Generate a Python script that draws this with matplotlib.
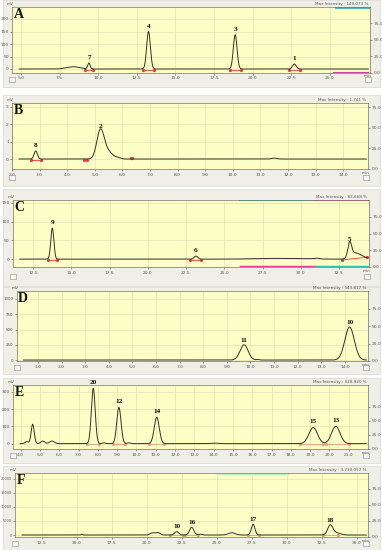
import numpy as np
import matplotlib
matplotlib.use("Agg")
import matplotlib.pyplot as plt
from matplotlib.patches import Rectangle

W, H = 382, 550

# ---------------- data (peak tables) ----------------
A_centers = [8.0, 8.4, 8.8, 9.4, 13.26, 18.87, 22.7]
A_heights = [5, 7, 5, 24, 150, 137, 20]
A_widths = [0.25, 0.2, 0.2, 0.08, 0.12, 0.12, 0.12]
A_labels = ["", "", "", "7", "4", "3", "1"]
A_xticks = [5.0, 7.5, 10.0, 12.5, 15.0, 17.5, 20.0, 22.5, 25.0]
A_yticks = [0, 50, 100, 150, 200]

B_centers = [2.86, 5.2, 5.45, 5.85, 11.5]
B_heights = [0.46, 1.55, 0.45, 0.06, 0.05]
B_widths = [0.06, 0.13, 0.18, 0.1, 0.1]
B_labels = ["8", "2", "", "", ""]
B_xticks = [2.0, 3.0, 4.0, 5.0, 6.0, 7.0, 8.0, 9.0, 10.0, 11.0, 12.0, 13.0, 14.0]
B_yticks = [0, 1, 2, 3]

C_centers = [13.76, 23.15, 28.5, 31.0, 33.2, 33.5, 34.0]
C_heights = [83, 8, 2, 2, 38, 15, 6]
C_widths = [0.1, 0.12, 1.5, 0.2, 0.12, 0.3, 0.3]
C_labels = ["9", "6", "", "", "5", "", ""]
C_xticks = [12.5, 15.0, 17.5, 20.0, 22.5, 25.0, 27.5, 30.0, 32.5]
C_yticks = [0, 50, 100, 150]

D_centers = [9.73, 10.3, 14.2]
D_heights = [250, 10, 540]
D_widths = [0.17, 0.06, 0.2]
D_labels = ["11", "", "10"]
D_xticks = [1.0, 2.0, 3.0, 4.0, 5.0, 6.0, 7.0, 8.0, 9.0, 10.0, 11.0, 12.0, 13.0, 14.0]
D_yticks = [0, 250, 500, 750, 1000]

E_centers = [4.31, 4.62, 5.14, 5.62, 7.76, 8.3, 9.09, 9.6, 11.05, 14.0, 19.16, 20.33]
E_heights = [12, 112, 15, 15, 320, 5, 209, 5, 153, 3, 93, 100]
E_widths = [0.08, 0.08, 0.1, 0.12, 0.1, 0.08, 0.11, 0.08, 0.13, 0.2, 0.22, 0.22]
E_labels = ["", "", "", "", "20", "", "12", "", "14", "", "15", "13"]
E_xticks = [4.0, 5.0, 6.0, 7.0, 8.0, 9.0, 10.0, 11.0, 12.0, 13.0, 14.0, 15.0, 16.0,
            17.0, 18.0, 19.0, 20.0, 21.0]
E_yticks = [0, 100, 200, 300]

F_centers = [15.36, 20.4, 20.8, 22.14, 23.21, 23.8, 26.07, 27.6, 33.1, 33.5]
F_heights = [300, 800, 900, 1180, 2750, 300, 820, 3820, 3320, 800]
F_widths = [0.05, 0.15, 0.15, 0.15, 0.15, 0.15, 0.25, 0.13, 0.18, 0.3]
F_labels = ["", "", "", "10", "16", "", "", "17", "18", ""]
F_xticks = [12.5, 15.0, 17.5, 20.0, 22.5, 25.0, 27.5, 30.0, 32.5, 35.0]
F_yticks = [0, 5000, 10000, 15000, 20000]

R_ticks = [0, 25, 50, 75]
max_texts = ["Max Intensity : 149,073 %", "Max Intensity : 1,741 %",
             "Max Intensity : 83,668 %", "Max Intensity : 543,817 %",
             "Max Intensity : 328,920 %", "Max Intensity : 3,730,057 %"]

# ---------------- styling ----------------
YEL = "#fdfdc6"
FRAME = "#efefe8"
GRID = "#dcdcb4"
LINE = "#33332a"
TXT = "#555555"

fig = plt.figure(figsize=(W / 100, H / 100), dpi=100)
fig.patch.set_facecolor("white")


def frect(x0, y0, x1, y1):
    return [x0 / W, 1 - y1 / H, (x1 - x0) / W, (y1 - y0) / H]


def panel(box, frame, letter, xlim, ylim, xticks, yticks, rylim, cents, hts, wds,
          labs, mtxt, fmt_x="{:.1f}", lab_off=0.04, ylab_size=3.2):
    fx0, fy0, fx1, fy1 = frame
    fig.add_artist(Rectangle((fx0 / W, 1 - fy1 / H), (fx1 - fx0) / W, (fy1 - fy0) / H,
                             transform=fig.transFigure, facecolor=FRAME,
                             edgecolor="#d8d8d0", lw=0.5, zorder=0))
    ax = fig.add_axes(frect(*box))
    ax.set_facecolor(YEL)
    ax.set_xlim(*xlim)
    ax.set_ylim(*ylim)
    x = np.linspace(xlim[0] + 0.02 * (xlim[1] - xlim[0]), xlim[1] - 0.005 * (xlim[1] - xlim[0]), 3000)
    y = np.zeros_like(x)
    for c, h, w in zip(cents, hts, wds):
        y += h * np.exp(-0.5 * ((x - c) / w) ** 2)
    ax.plot(x, y, color=LINE, lw=0.7, zorder=3)
    yr = ylim[1] - ylim[0]
    for c, h, w, l in zip(cents, hts, wds, labs):
        if l:
            ax.text(c, h + lab_off * yr, l, ha="center", va="bottom", fontsize=5.2,
                    fontweight="bold", family="Liberation Serif", color="#111111", zorder=5)
    ax.set_xticks(xticks)
    ax.set_xticklabels([fmt_x.format(v) for v in xticks])
    ax.set_yticks(yticks)
    ax.set_yticklabels([str(v) for v in yticks])
    ax.grid(True, color=GRID, lw=0.4)
    ax.set_axisbelow(True)
    ax.tick_params(axis="x", labelsize=3.2, colors=TXT, length=1.5, width=0.4, pad=1.2)
    ax.tick_params(axis="y", labelsize=ylab_size, colors=TXT, length=1.5, width=0.4, pad=0.8)
    for s in ax.spines.values():
        s.set_color("#777766")
        s.set_linewidth(0.5)
    ax.text(0.005, 0.985, letter, transform=ax.transAxes, ha="left", va="top",
            fontsize=10, fontweight="bold", family="Liberation Serif", color="#111111", zorder=6)
    ax.text(-0.005, 1.02, "mV", transform=ax.transAxes, ha="center", va="bottom",
            fontsize=3, color=TXT)
    ax.text(1.004, -0.03, "min", transform=ax.transAxes, ha="right", va="top",
            fontsize=3.0, color=TXT)
    ax.text(0.995, 1.02, mtxt, transform=ax.transAxes, ha="right", va="bottom",
            fontsize=3, color=TXT)
    rax = ax.twinx()
    rax.set_ylim(*rylim)
    rax.set_yticks(R_ticks)
    rax.set_yticklabels(["{:.1f}".format(v) for v in R_ticks])
    rax.tick_params(labelsize=3.2, colors=TXT, length=1.5, width=0.4, pad=1.2)
    for s in rax.spines.values():
        s.set_visible(False)
    sb_y = box[3] + (fy1 - box[3]) * 0.45
    for sx in (box[0] - 3, box[2] - 5):
        fig.add_artist(Rectangle((sx / W, 1 - (sb_y + 3) / H), 6 / W, 5 / H,
                                 transform=fig.transFigure, facecolor="#f6f6f6",
                                 edgecolor="#888888", lw=0.4, zorder=1))
    return ax


def baseline_marks(ax, cents, hts, wds, labs, yb, color="#e04040"):
    for c, h, w, l in zip(cents, hts, wds, labs):
        if l:
            ax.plot([c - 3 * w, c + 3 * w], [yb, yb], color=color, lw=0.6, zorder=2)
            ax.plot([c - 3 * w, c + 3 * w], [yb, yb], ls="none", marker="o", ms=1.3,
                    color=color, zorder=2)


axA = panel((12, 7, 370, 72.5), (3, 0, 380, 87), "A", (4.42, 27.6), (-14, 248),
            A_xticks, A_yticks, (0, 100), A_centers, A_heights, A_widths, A_labels, max_texts[0])
baseline_marks(axA, A_centers, A_heights, A_widths, A_labels, -4)
axA.plot([25.2, 27.5], [-12, -12], color="#d040a0", lw=0.8)
axA.plot([25.4, 27.6], [246, 246], color="#30b0a0", lw=1.2)

axB = panel((12, 103, 368, 169), (3, 95, 380, 186), "B", (2.0, 14.9), (-0.57, 3.2),
            B_xticks, B_yticks, (0, 80), B_centers, B_heights, B_widths, B_labels, max_texts[1])
baseline_marks(axB, B_centers[:1], B_heights[:1], B_widths[:1], B_labels[:1], -0.03)
axB.plot([4.6, 4.7], [-0.03, -0.03], color="#e04040", lw=0.6, marker="o", ms=1.3)
axB.plot([6.3, 6.35], [0.03, 0.03], color="#e04040", lw=0.6, marker="o", ms=1.3)

axC = panel((12.7, 200, 369, 267), (3, 189, 380, 286), "C", (11.17, 34.46), (-21, 158),
            C_xticks, C_yticks, (0, 100), C_centers, C_heights, C_widths, C_labels, max_texts[2])
baseline_marks(axC, C_centers[:2], C_heights[:2], C_widths[:2], C_labels[:2], -2)
axC.plot([32.7, 34.3], [-2, 5], color="#e04040", lw=0.6, marker="o", ms=1.3)
axC.plot([26.0, 30.9], [157, 157], color="#30c0a0", lw=1.3)
axC.plot([30.9, 34.46], [157, 157], color="#e040a0", lw=1.3)
axC.plot([26.0, 30.9], [-19, -19], color="#e040a0", lw=1.0)
axC.plot([30.9, 34.46], [-19, -19], color="#30c0a0", lw=1.0)

axD = panel((16.5, 291, 368, 361), (3, 287, 380, 374), "D", (0.09, 14.98), (-16, 1131),
            D_xticks, D_yticks, (0, 100), D_centers, D_heights, D_widths, D_labels, max_texts[3],
            lab_off=0.03, ylab_size=2.9)

axE = panel((13, 385, 368, 449), (3, 378, 380, 463), "E", (3.6, 22.0), (-31, 339),
            E_xticks, E_yticks, (0, 114), E_centers, E_heights, E_widths, E_labels, max_texts[4],
            lab_off=0.05)
baseline_marks(axE, E_centers, E_heights, E_widths, E_labels, -3, color="#e0a080")

axF = panel((15, 473, 368, 537), (3, 466, 380, 550), "F", (10.6, 35.8), (-714, 22140),
            F_xticks, F_yticks, (0, 100), F_centers, F_heights, F_widths, F_labels, max_texts[5],
            lab_off=0.04, ylab_size=2.5)
baseline_marks(axF, F_centers, F_heights, F_widths, F_labels, -100, color="#e0a080")
axF.plot([25.0, 30.0], [22000, 22000], color="#c8f0c8", lw=2.5)

fig.savefig("out.png", dpi=100, facecolor="white")
